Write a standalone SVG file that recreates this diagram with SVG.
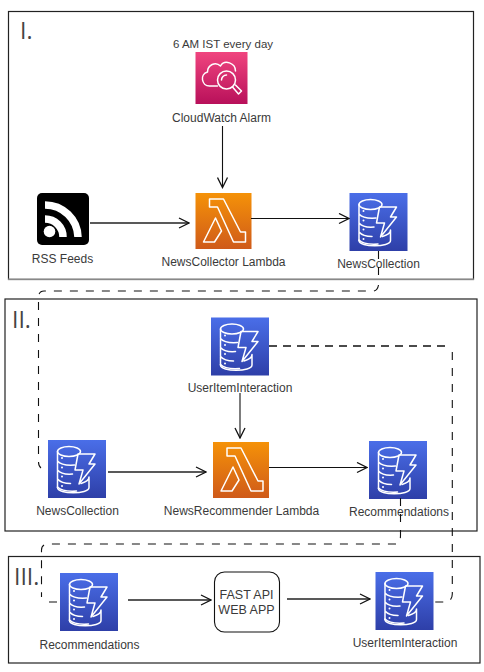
<svg xmlns="http://www.w3.org/2000/svg" width="484" height="672" viewBox="0 0 484 672">
<style>
text{font-family:"Liberation Sans",Arial,sans-serif;font-size:12px;fill:#3a3a3a;text-anchor:middle}
.num{font-family:"Open Sans","Liberation Sans",sans-serif;font-size:23px;text-anchor:start;fill:#444}
.frame{fill:#fff;stroke:#222;stroke-width:1.2}
.ic{fill:none;stroke:#fff;stroke-width:1.5;stroke-linejoin:round;stroke-linecap:round}
.c{fill:none;stroke:#111;stroke-width:1.1}
.t{stroke-width:1.7;stroke:#222}
.d{fill:none;stroke:#111;stroke-width:1.1;stroke-dasharray:8 8}
.dt{stroke-width:1.6;stroke-dasharray:8 6}
</style>
<defs>
<linearGradient id="gb" x1="0" y1="1" x2="0" y2="0"><stop offset="0" stop-color="#2e3fa8"/><stop offset="1" stop-color="#4a6ee8"/></linearGradient>
<linearGradient id="go" x1="0" y1="1" x2="0" y2="0"><stop offset="0" stop-color="#cf5a1a"/><stop offset="1" stop-color="#f59208"/></linearGradient>
<linearGradient id="gp" x1="0" y1="1" x2="0" y2="0"><stop offset="0" stop-color="#b8105a"/><stop offset="1" stop-color="#f0457f"/></linearGradient>
<marker id="a" viewBox="0 0 12 12" refX="11" refY="6" markerWidth="12" markerHeight="12" markerUnits="userSpaceOnUse" orient="auto"><path d="M1 1L11 6L1 11" fill="none" stroke="#111" stroke-width="1.3"/></marker>
<symbol id="dyn" width="58" height="58" viewBox="0 0 58 58" overflow="visible">
<rect width="58" height="58" fill="url(#gb)"/>
<ellipse class="ic" cx="21" cy="11.500" rx="11.500" ry="5"/>
<path class="ic" d="M9.500 11.500V47.500M9.500 21c3 3.500 10 4.500 17 4M9.500 30c3 3.500 9 4.500 15 4M9.500 39c3 3.500 9 4.500 13 4.500"/>
<path class="ic" d="M30 14H47L41 24H47L31 44L35 30H27Z"/>
<path class="ic" d="M9.500 47.500c0 7 31.500 7 31.500 0V37c0 2.500-3 5-8 6.500"/>
<path class="ic" d="M9.500 47c4 4 12 4.500 19 4"/>
<circle cx="14" cy="18" r="1" fill="#fff"/><circle cx="14" cy="27.500" r="1" fill="#fff"/><circle cx="14" cy="36.500" r="1" fill="#fff"/><circle cx="14" cy="46" r="1" fill="#fff"/>
</symbol>
<symbol id="lam" width="56" height="56" viewBox="0 0 56 56" overflow="visible">
<rect width="56" height="56" fill="url(#go)"/>
<path class="ic" d="M14 6H28L45 39H50V49H38L22 14H14ZM8 49L20 25L26 38L19 49Z"/>
</symbol>
</defs>
<rect x="8.500" y="11.500" width="465" height="268" class="frame"/>
<path d="M8 279.300H474" stroke="#888" stroke-width="1.600"/>
<rect x="5" y="299" width="472" height="232" class="frame"/>
<rect x="8.500" y="556.500" width="471.500" height="106.500" class="frame"/>
<text class="num" x="20" y="39">I.</text>
<text class="num" x="12" y="328">II.</text>
<text class="num" x="14" y="585">III.</text>
<g id="cloudwatch"><rect x="195.500" y="52" width="52" height="52" fill="url(#gp)"/>
<g transform="translate(195.500 52)"><path class="ic" d="M22 34H14C6 34 4 22 12 20C12 13 20 9 25 14C29 7 40 11 40 19"/><circle class="ic" cx="31" cy="28" r="9"/><path class="ic" d="M26 28A5 5 0 0 1 31 23"/><path class="ic" d="M37 35L43 42L46 39L40 33"/></g>
<text x="223" y="48" style="font-size:11.500px">6 AM IST every day</text><text x="221.500" y="122">CloudWatch Alarm</text></g>
<g id="rss"><rect x="37" y="193" width="52" height="52" rx="5" fill="#000"/>
<g transform="translate(37 193)" fill="none" stroke="#fff" stroke-width="7.500"><path d="M8 12A33 33 0 0 1 41 44"/><path d="M8 26A18 18 0 0 1 26 44"/><circle cx="12.500" cy="38.500" r="5.800" fill="#fff" stroke="none"/></g>
<text x="62.500" y="263">RSS Feeds</text></g>
<g id="newscollector"><use href="#lam" x="195.500" y="193"/><text x="223.500" y="266">NewsCollector Lambda</text></g>
<g id="newscollection1"><use href="#dyn" x="349.500" y="193"/><text x="378.500" y="268">NewsCollection</text></g>
<g id="useriteminteraction1"><use href="#dyn" x="211" y="317.500"/><text x="240" y="392">UserItemInteraction</text></g>
<g id="newscollection2"><use href="#dyn" x="48" y="440"/><text x="77.500" y="515">NewsCollection</text></g>
<g id="newsrecommender"><use href="#lam" x="213" y="442"/><text x="241.500" y="515">NewsRecommender Lambda</text></g>
<g id="recommendations1"><use href="#dyn" x="369" y="441"/><text x="399" y="516">Recommendations</text></g>
<g id="recommendations2"><use href="#dyn" x="60" y="573"/><text x="89.500" y="649">Recommendations</text></g>
<g id="fastapi"><rect x="214.500" y="572" width="65" height="60" rx="10" fill="#fff" stroke="#111" stroke-width="1.100"/><text x="246.500" y="599" style="font-size:12.500px">FAST API</text><text x="246.500" y="614" style="font-size:12.500px">WEB APP</text></g>
<g id="useriteminteraction2"><use href="#dyn" x="375.500" y="572"/><text x="405" y="647">UserItemInteraction</text></g>
<g id="connectors">
<path class="c" marker-end="url(#a)" d="M222.500 126V187.500"/>
<path class="c t" marker-end="url(#a)" d="M90 223H189"/>
<path class="c" marker-end="url(#a)" d="M251 218.500H349"/>
<path class="c" marker-end="url(#a)" d="M240 393V438"/>
<path class="c t" marker-end="url(#a)" d="M108 472H206"/>
<path class="c" marker-end="url(#a)" d="M269 467.500H367"/>
<path class="c t" marker-end="url(#a)" d="M128 600H211"/>
<path class="c t" marker-end="url(#a)" d="M287 599H370"/>
<path class="d" d="M378.500 251V275M378.500 285C378 288 376.500 291 373 291H44C41 291 38.500 293 38.500 297V462C38.500 465 39.500 467 41 468"/>
<path class="d dt" d="M269 346H446"/>
<path class="d" d="M452.300 352V594C452.300 598 450 602 446 602H435"/>
<path class="d" d="M400.500 498V535C400.500 541 399 544 395 544H49C44 544 41.500 546 41.500 550V597M49 602H57"/>
</g>
</svg>
